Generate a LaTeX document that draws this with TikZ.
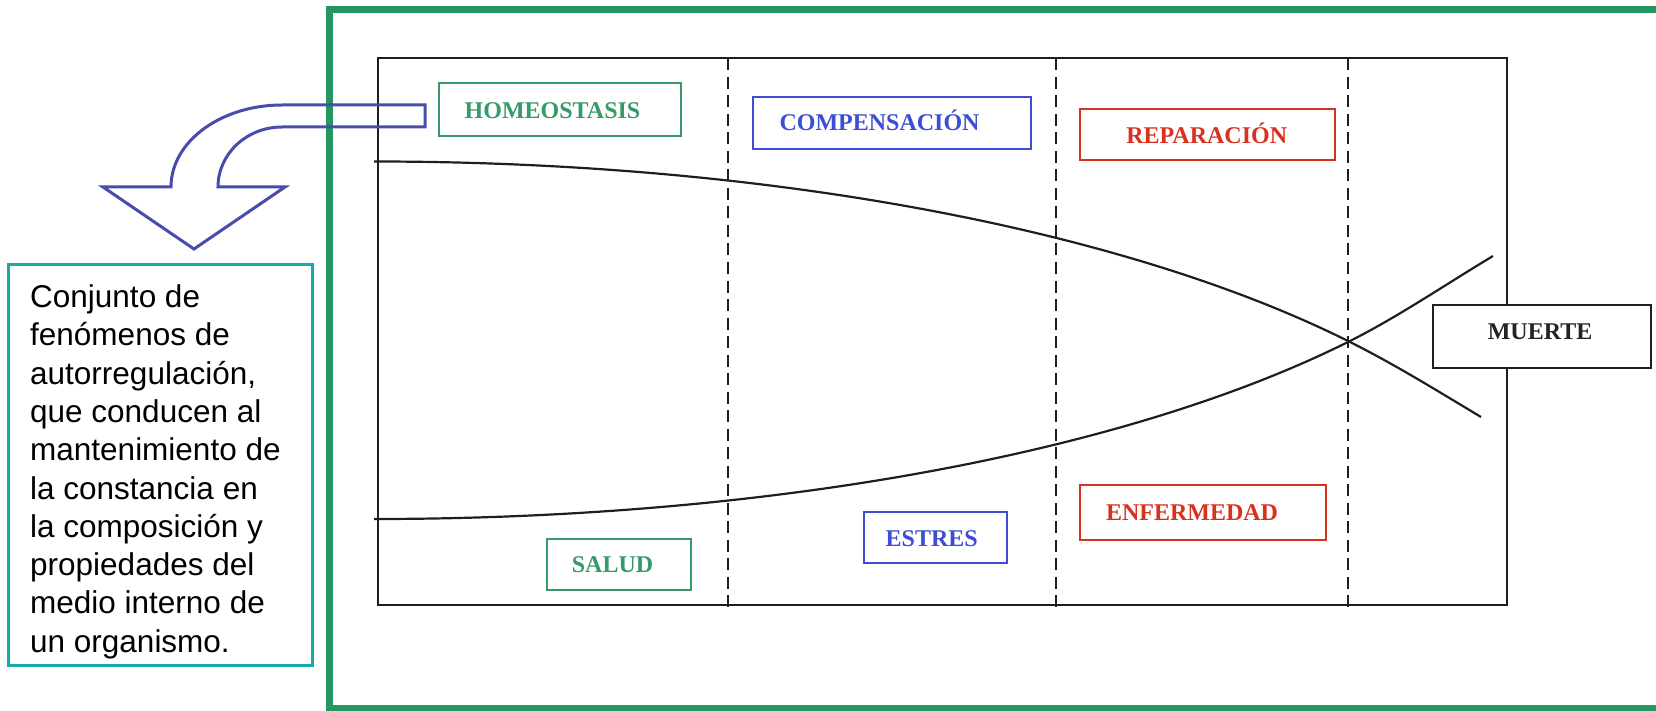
\documentclass[tikz,border=0pt]{standalone}
\usepackage{fontspec}
\setmainfont{Liberation Serif}
\newfontfamily\bodysans{Liberation Sans}

\definecolor{framegreen}{RGB}{36,150,98}
\definecolor{tagGreen}{RGB}{52,155,105}
\definecolor{tagBlue}{RGB}{62,78,212}
\definecolor{tagRed}{RGB}{214,50,30}
\definecolor{tagDark}{RGB}{35,35,35}
\definecolor{arrowblue}{RGB}{72,76,170}
\definecolor{defcyan}{RGB}{22,170,170}
\definecolor{chartblack}{RGB}{30,30,30}

\begin{document}
\begin{tikzpicture}[x=1pt,y=-1pt,
  frame/.style={draw=framegreen,line width=7pt},
  chart/.style={draw=chartblack,line width=2pt},
  divider/.style={draw=chartblack,line width=2pt,dash pattern=on 12pt off 6.5pt},
  curve/.style={draw=chartblack,line width=2.2pt},
  tagbox/.style={draw=#1,line width=2pt,fill=white,inner sep=0pt,outer sep=0pt},
  tagtext/.style={text=#1,font=\fontsize{24}{24}\selectfont\bfseries,inner sep=0pt,anchor=base},
  bigarrow/.style={draw=arrowblue,line width=3pt,line join=miter},
  defbox/.style={draw=defcyan,line width=3pt,inner sep=0pt},
  deftext/.style={anchor=north west,inner sep=0pt,align=left,
    font=\bodysans\fontsize{31.5}{38.3}\selectfont}
]
\useasboundingbox (0,0) rectangle (1656,711);
\clip (0,0) rectangle (1656,711);

% outer green frame (runs past the right edge)
\draw[frame] (329,10) rectangle (1700,708);

% chart area
\draw[chart] (378,58.5) rectangle (1507,605);
\draw[divider] (727.7,58.5) -- (727.7,612);
\draw[divider] (1055.5,58.5) -- (1055.5,612);
\draw[divider] (1347.7,58.5) -- (1347.7,612);

% health and disease curves, crossing on the last divider
\coordinate (cross) at (1349,341.5);
\draw[curve] (374,161.5) .. controls (774,161.5) and (1129,231.5) .. (cross)
  .. controls (1394,364) and (1436,390) .. (1481,417);
\draw[curve] (374,519) .. controls (774,519) and (1129,451.5) .. (cross)
  .. controls (1397,317.5) and (1445,284.8) .. (1493,256);

% labelled stages
\node[tagbox=tagGreen,minimum width=242,minimum height=53.6] (homeo) at (560.3,109.5) {};
\node[tagtext=tagGreen] (homeoT) at (552.5,119) {HOMEOSTASIS};

\node[tagbox=tagBlue,minimum width=278.6,minimum height=52] (comp) at (892,123) {};
\node[tagtext=tagBlue] (compT) at (879.5,130.7) {COMPENSACIÓN};

\node[tagbox=tagRed,minimum width=254.7,minimum height=50.4] (repar) at (1207.7,134.5) {};
\node[tagtext=tagRed] (reparT) at (1206.7,143.3) {REPARACIÓN};

\node[tagbox=tagRed,minimum width=245.4,minimum height=54.4] (enfer) at (1203,512.5) {};
\node[tagtext=tagRed] (enferT) at (1192,520) {ENFERMEDAD};

\node[tagbox=tagBlue,minimum width=143,minimum height=51.3] (estres) at (935.2,537.7) {};
\node[tagtext=tagBlue] (estresT) at (931.7,546.7) {ESTRES};

\node[tagbox=tagGreen,minimum width=144.3,minimum height=50.4] (salud) at (619.2,564.5) {};
\node[tagtext=tagGreen] (saludT) at (612.5,572.3) {SALUD};

\node[tagbox=chartblack,minimum width=218,minimum height=63] (muerte) at (1541.7,336.5) {};
\node[tagtext=tagDark] (muerteT) at (1540,339) {MUERTE};

% curved block arrow from the homeostasis box down to the definition
\draw[bigarrow] (425,105) -- (282,105)
  arc[start angle=270,end angle=180,x radius=111,y radius=82]
  -- (103,187) -- (194,249) -- (285,187) -- (218,187)
  arc[start angle=180,end angle=270,x radius=64,y radius=60]
  -- (425,127) -- cycle;

% definition box
\node[defbox,minimum width=304,minimum height=400] (def) at (160.3,465) {};
\node[deftext] (defT) at (30,284.5) {Conjunto de\\fenómenos de\\autorregulación,\\que conducen al\\mantenimiento de\\la constancia en\\la composición y\\propiedades del\\medio interno de\\un organismo.};
\end{tikzpicture}
\end{document}
